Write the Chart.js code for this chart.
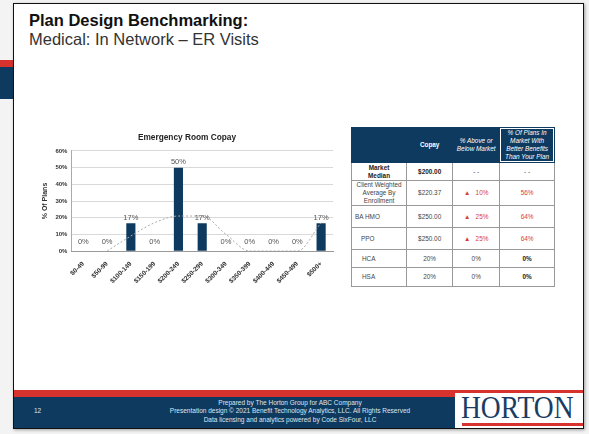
<!DOCTYPE html>
<html>
<head>
<meta charset="utf-8">
<script src="https://cdn.jsdelivr.net/npm/chart.js@4/dist/chart.umd.min.js"></script>
<style>
  html,body{margin:0;padding:0;}
  body{width:589px;height:434px;position:relative;overflow:hidden;background:#f3f3f3;font-family:"Liberation Sans",Arial,sans-serif;}
  .abs{position:absolute;}
  #slide{left:13px;top:3px;width:569px;height:424px;background:#fff;border:1.5px solid #111;box-shadow:1px 1px 3px rgba(0,0,0,0.35);}
  #t1{left:29px;top:11px;font-size:16.5px;font-weight:bold;color:#111;white-space:nowrap;}
  #t2{left:29px;top:30px;font-size:16.5px;color:#333;white-space:nowrap;}
  table{border-collapse:collapse;font-size:6.4px;color:#444;}
  td,th{border:0.8px solid #999;text-align:center;padding:0;line-height:1.25;}
  th{background:#0e3a60;color:#fff;font-weight:normal;border-color:#0e3a60;}
  .red{color:#d9393a;}
  .ft{color:#dfe6ee;font-size:6.5px;text-align:center;line-height:8.4px;}
</style>
</head>
<body>
<div class="abs" style="left:0;top:60px;width:13px;height:7px;background:#d8322f;"></div>
<div class="abs" style="left:0;top:67px;width:13px;height:32px;background:#0e3a60;"></div>
<div id="slide" class="abs"></div>
<div id="t1" class="abs">Plan Design Benchmarking:</div>
<div id="t2" class="abs">Medical: In Network – ER Visits</div>

<div class="abs" style="left:41px;top:130px;width:296px;height:156px;">
  <canvas id="c"></canvas>
</div>

<table class="abs" style="left:351px;top:127px;width:204px;height:158px;">
  <tr style="height:35px;">
    <th style="width:55px;"></th>
    <th style="width:46px;font-weight:bold;">Copay</th>
    <th style="width:47px;font-style:italic;">% Above or<br>Below Market</th>
    <th style="width:55px;font-style:italic;box-shadow:inset 0 0 0 1px #fff;">% Of Plans In<br>Market With<br>Better Benefits<br>Than Your Plan</th>
  </tr>
  <tr style="height:18px;"><td style="font-weight:bold;color:#222;">Market<br>Median</td><td style="font-weight:bold;color:#222;">$200.00</td><td>- -</td><td>- -</td></tr>
  <tr style="height:24px;"><td>Client Weighted<br>Average By<br>Enrollment</td><td>$220.37</td><td class="red">▲&nbsp;&nbsp; 10%</td><td class="red">56%</td></tr>
  <tr style="height:22px;"><td style="text-align:left;padding-left:3px;">BA HMO</td><td>$250.00</td><td class="red">▲&nbsp;&nbsp; 25%</td><td class="red">64%</td></tr>
  <tr style="height:22px;"><td style="text-align:left;padding-left:9px;">PPO</td><td>$250.00</td><td class="red">▲&nbsp;&nbsp; 25%</td><td class="red">64%</td></tr>
  <tr style="height:18px;"><td style="text-align:left;padding-left:10px;">HCA</td><td>20%</td><td>0%</td><td style="font-weight:bold;color:#222;">0%</td></tr>
  <tr style="height:19px;"><td style="text-align:left;padding-left:10px;">HSA</td><td>20%</td><td>0%</td><td style="font-weight:bold;color:#222;">0%</td></tr>
</table>

<!-- footer -->
<div class="abs" style="left:14px;top:390px;width:569px;height:8px;background:#d8322f;"></div>
<div class="abs" style="left:14px;top:397px;width:569px;height:31px;background:#0e3a60;"></div>
<div class="abs" style="left:455px;top:393px;width:128px;height:35px;background:#fff;"></div>
<div class="abs" style="left:462px;top:423px;width:121px;height:2.5px;background:#d8322f;"></div>
<div class="abs" style="left:461px;top:391px;font-family:'Liberation Serif','DejaVu Serif',serif;font-size:32px;color:#1b3d63;line-height:32px;white-space:nowrap;transform:scaleX(0.86);transform-origin:0 0;">HORTON</div>
<div class="abs" style="left:34px;top:407px;color:#dfe6ee;font-size:6.5px;">12</div>
<div class="abs ft" style="left:130px;top:399px;width:320px;">Prepared by The Horton Group for ABC Company<br>Presentation design © 2021 Benefit Technology Analytics, LLC. All Rights Reserved<br>Data licensing and analytics powered by Code SixFour, LLC</div>

<script>
const categories = ["$0-49","$50-99","$100-149","$150-199","$200-249","$250-299","$300-349","$350-399","$400-449","$450-499","$500+"];
const percentOfPlans = [0, 0, 16.7, 0, 50, 16.7, 0, 0, 0, 0, 16.7];
const trendLine = [null, 0, 9, 17, 21, 21, 10, 0, 0, 0, 17];
const yTicks = [0, 10, 20, 30, 40, 50, 60];

const labelPlugin = {
  id: 'barLabels',
  afterDatasetsDraw(chart) {
    const meta = chart.getDatasetMeta(0);
    const ctx = chart.ctx;
    ctx.save();
    ctx.font = '7.5px "Liberation Sans", Arial, sans-serif';
    ctx.fillStyle = '#555';
    ctx.textAlign = 'center';
    ctx.textBaseline = 'bottom';
    meta.data.forEach((bar, i) => {
      const v = percentOfPlans[i];
      let y = v === 0 ? bar.y - 5 : bar.y - 2;
      ctx.fillText(Math.round(v) + '%', bar.x, y);
    });
    ctx.restore();
  }
};

new Chart(document.getElementById('c'), {
  data: {
    labels: categories,
    datasets: [
      {
        type: 'bar',
        data: percentOfPlans,
        backgroundColor: '#0e3a60',
        categoryPercentage: 0.8,
        barPercentage: 0.48,
        order: 2
      },
      {
        type: 'line',
        data: trendLine,
        borderColor: '#aaaaaa',
        borderWidth: 1,
        borderDash: [2, 2],
        pointRadius: 0,
        fill: false,
        tension: 0.4,
        cubicInterpolationMode: 'monotone',
        order: 1
      }
    ]
  },
  options: {
    responsive: true,
    maintainAspectRatio: false,
    animation: false,
    layout: { padding: { left: 0, right: 4, top: 0, bottom: 0 } },
    plugins: {
      legend: { display: false },
      tooltip: { enabled: false },
      title: {
        display: true,
        text: 'Emergency Room Copay',
        color: '#222',
        font: { family: '"Liberation Sans", Arial, sans-serif', size: 8.3, weight: 'bold' },
        padding: { top: 3, bottom: 8 }
      }
    },
    scales: {
      y: {
        min: 0, max: 60,
        afterBuildTicks(axis) { axis.ticks = yTicks.map(v => ({ value: v })); },
        ticks: {
          callback: v => v + '%',
          color: '#333',
          padding: 4,
          font: { family: '"Liberation Sans", Arial, sans-serif', size: 6, weight: 'bold' }
        },
        grid: { color: '#cfcfcf', drawTicks: false, lineWidth: 0.8 },
        border: { color: '#aaa' },
        title: {
          display: true,
          text: '% Of Plans',
          color: '#333',
          padding: { top: 0, bottom: 2 },
          font: { family: '"Liberation Sans", Arial, sans-serif', size: 7, weight: 'bold' }
        }
      },
      x: {
        ticks: {
          minRotation: 45, maxRotation: 45,
          color: '#333',
          padding: 1,
          autoSkip: false,
          font: { family: '"Liberation Sans", Arial, sans-serif', size: 6.5, weight: 'bold' }
        },
        grid: { display: false },
        border: { color: '#999' }
      }
    }
  },
  plugins: [labelPlugin]
});
</script>
</body>
</html>
